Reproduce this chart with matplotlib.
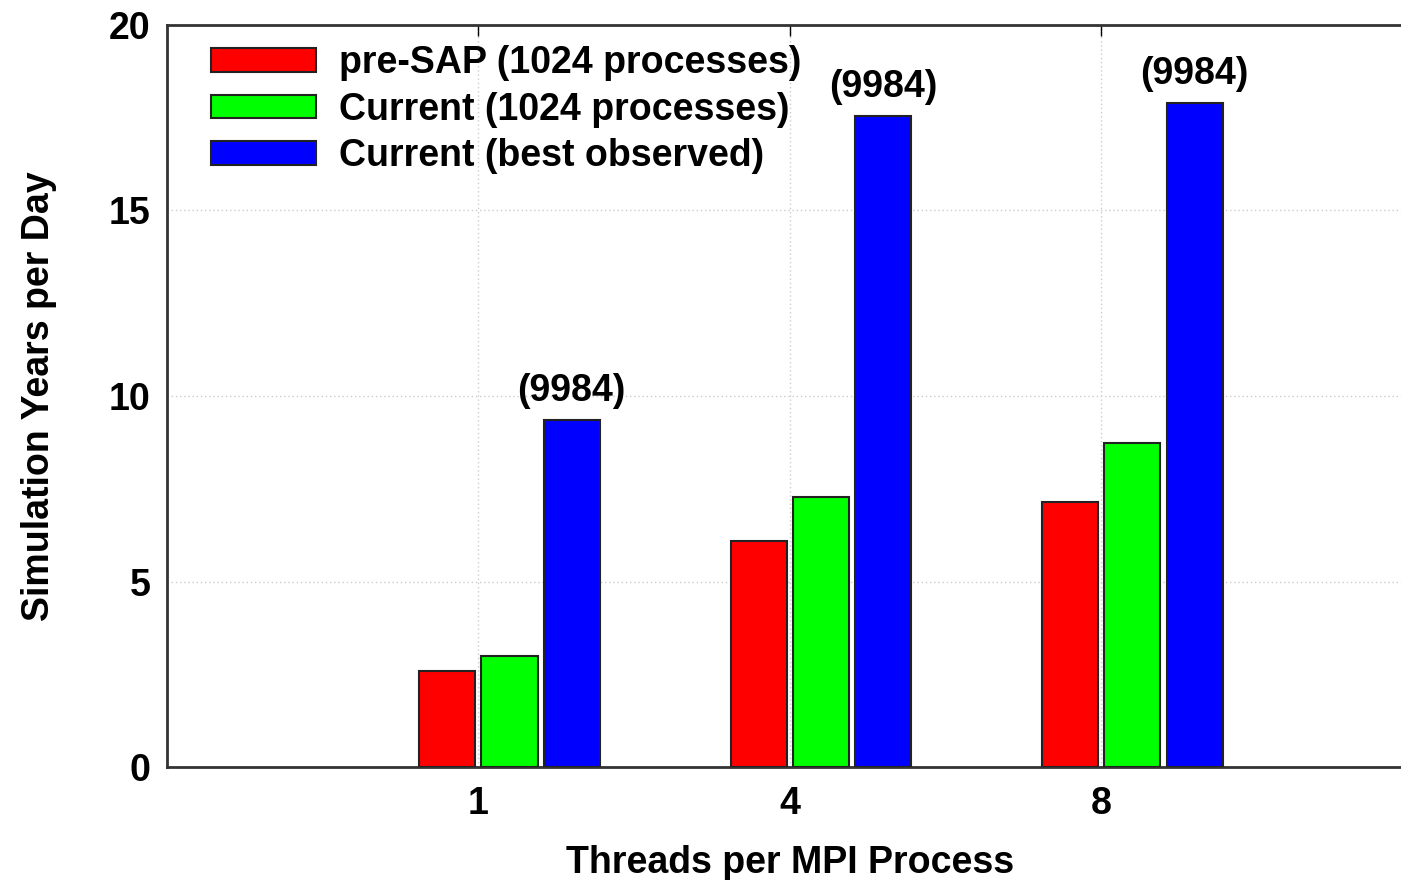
import numpy as np
import matplotlib.pyplot as plt
from matplotlib.patches import Patch

# --- data ---
threads = ['1', '4', '8']
pre_sap = [2.6, 6.1, 7.15]
current_1024 = [2.98, 7.28, 8.72]
current_best = [9.35, 17.55, 17.9]
best_labels = ['(9984)', '(9984)', '(9984)']

series_names = ['pre-SAP (1024 processes)', 'Current (1024 processes)', 'Current (best observed)']
colors = ['#ff0000', '#00ff00', '#0000ff']

plt.rcParams['font.family'] = ['Liberation Sans', 'DejaVu Sans']
plt.rcParams['font.weight'] = 'bold'
FS = 27

fig = plt.figure(figsize=(14.01, 8.8), dpi=100)
ax = fig.add_axes([0.1192, 0.1284, 0.889, 0.8432])

x = np.arange(len(threads))
w = 0.18
offsets = [-0.1, 0.1, 0.3]
for vals, off, c in zip([pre_sap, current_1024, current_best], offsets, colors):
    ax.bar(x + off, vals, width=w, color=c, edgecolor='#222222', linewidth=1.5, zorder=3)

for xi, v, lab in zip(x, current_best, best_labels):
    ax.text(xi + 0.3, v + 0.3, lab, ha='center', va='bottom',
            fontsize=FS, fontweight='bold')

ax.set_xlim(-1, 3)
ax.set_ylim(0, 20)
ax.set_xticks(x)
ax.set_xticklabels(threads)
ax.set_yticks([0, 5, 10, 15, 20])
ax.tick_params(axis='both', labelsize=FS, direction='in', length=8, width=1,
               top=True, left=False, bottom=False, pad=12)
ax.tick_params(axis='x', pad=14)

ax.grid(True, linestyle=(0, (1, 2)), color='#cccccc', linewidth=1, zorder=0)
ax.spines['right'].set_visible(False)
for s in ['left', 'top', 'bottom']:
    ax.spines[s].set_linewidth(2)
    ax.spines[s].set_color('#333333')

ax.set_xlabel('Threads per MPI Process', fontsize=FS, fontweight='bold', labelpad=16)
ax.set_ylabel('Simulation Years per Day', fontsize=FS, fontweight='bold', labelpad=37)

handles = [Patch(facecolor=c, edgecolor='#222222', linewidth=1.5) for c in colors]
leg = ax.legend(handles, series_names, loc='upper left', frameon=False,
                fontsize=FS, handlelength=2.8, handleheight=0.6,
                labelspacing=0.28, handletextpad=0.62,
                bbox_to_anchor=(0.0144, 1.008), borderaxespad=0.3)

plt.savefig('out.png', dpi=100)
